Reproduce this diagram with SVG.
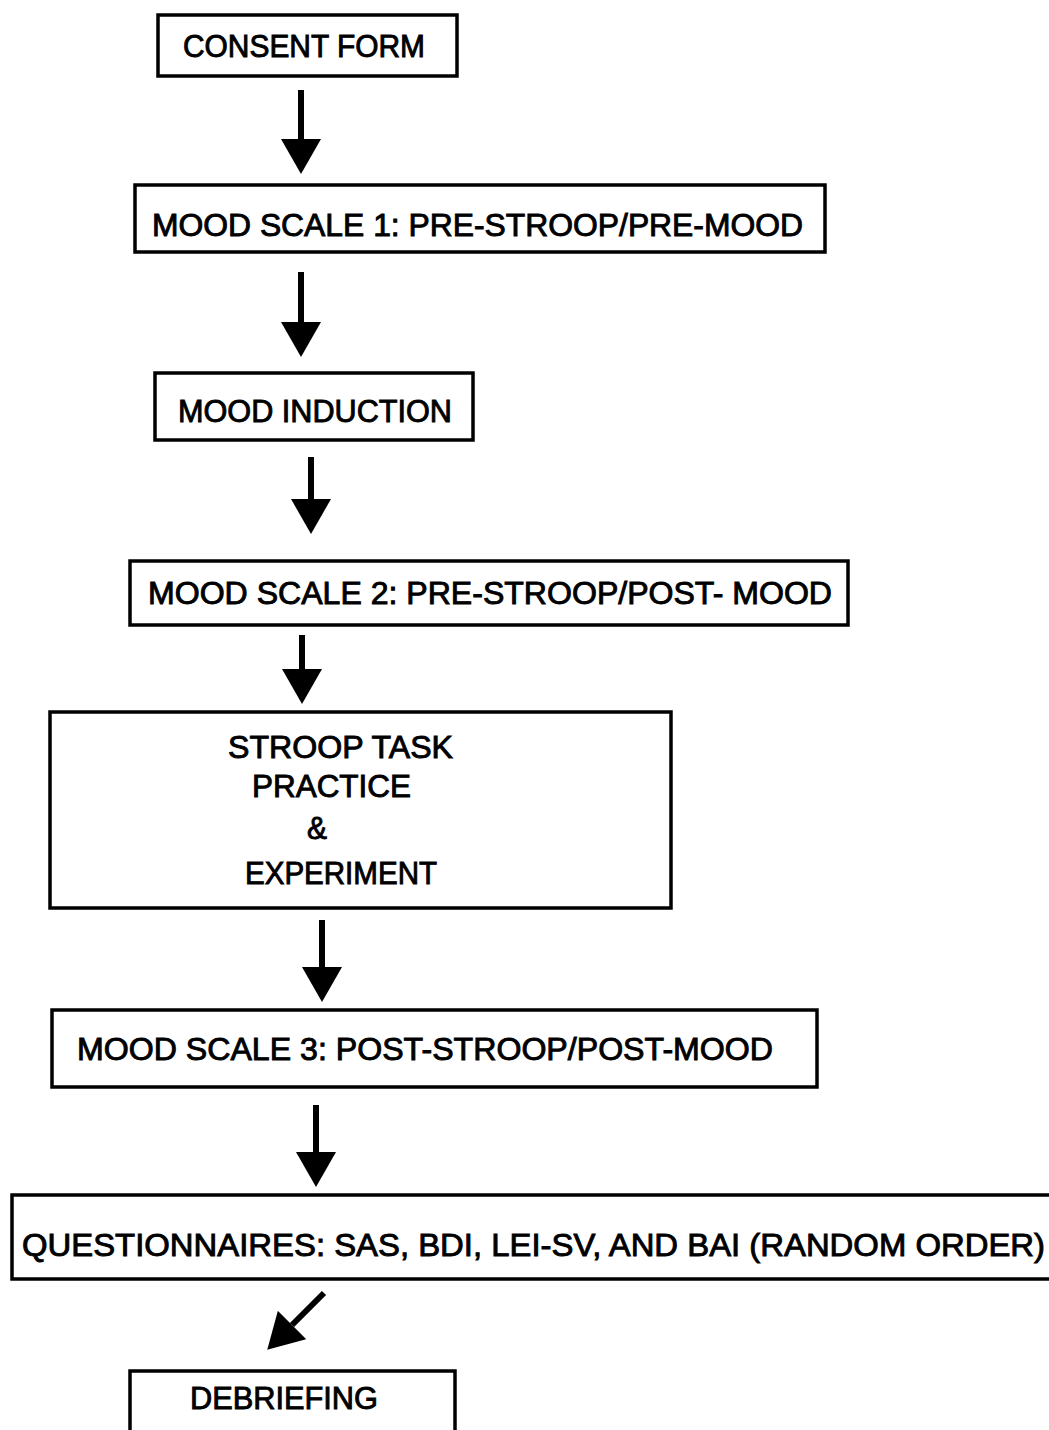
<svg xmlns="http://www.w3.org/2000/svg" width="1049" height="1430" viewBox="0 0 1049 1430">
<defs>
<marker id="ah" markerUnits="userSpaceOnUse" markerWidth="36" markerHeight="40" viewBox="0 0 36 40" refX="0" refY="20" orient="auto">
<path d="M0,0 L35,20 L0,40 Z" fill="#000"/>
</marker>
<style>
.box{fill:#fff;stroke:#000;stroke-width:3.5}
.t{font-family:"Liberation Sans",Arial,sans-serif;font-size:31px;fill:#000;stroke:#000;stroke-width:0.9;dominant-baseline:central}
.c{stroke:#000;stroke-width:6;fill:none}
</style>
</defs>
<rect width="1049" height="1430" fill="#fff"/>
<g id="connectors">
<line class="c" x1="301" y1="90" x2="301" y2="139" marker-end="url(#ah)"/>
<line class="c" x1="301" y1="272" x2="301" y2="322" marker-end="url(#ah)"/>
<line class="c" x1="311" y1="457" x2="311" y2="499" marker-end="url(#ah)"/>
<line class="c" x1="302" y1="635" x2="302" y2="669" marker-end="url(#ah)"/>
<line class="c" x1="322" y1="920" x2="322" y2="967" marker-end="url(#ah)"/>
<line class="c" x1="316" y1="1105" x2="316" y2="1152" marker-end="url(#ah)"/>
<line class="c" x1="324" y1="1293" x2="292" y2="1325" marker-end="url(#ah)"/>
</g>
<g id="n1"><rect class="box" x="158" y="15" width="299" height="61"/><text class="t" x="183" y="46" textLength="242" lengthAdjust="spacingAndGlyphs">CONSENT FORM</text></g>
<g id="n2"><rect class="box" x="135" y="185" width="690" height="67"/><text class="t" x="152" y="225" textLength="651" lengthAdjust="spacingAndGlyphs">MOOD SCALE 1: PRE-STROOP/PRE-MOOD</text></g>
<g id="n3"><rect class="box" x="155" y="373" width="318" height="67"/><text class="t" x="178" y="411" textLength="274" lengthAdjust="spacingAndGlyphs">MOOD INDUCTION</text></g>
<g id="n4"><rect class="box" x="130" y="561" width="718" height="64"/><text class="t" x="148" y="593" textLength="684" lengthAdjust="spacingAndGlyphs">MOOD SCALE 2: PRE-STROOP/POST- MOOD</text></g>
<g id="n5"><rect class="box" x="50" y="712" width="621" height="196"/>
<text class="t" x="228" y="747" textLength="225" lengthAdjust="spacingAndGlyphs">STROOP TASK</text>
<text class="t" x="252" y="786" textLength="159" lengthAdjust="spacingAndGlyphs">PRACTICE</text>
<text class="t" x="307" y="828" textLength="20" lengthAdjust="spacingAndGlyphs">&amp;</text>
<text class="t" x="245" y="873" textLength="192" lengthAdjust="spacingAndGlyphs">EXPERIMENT</text></g>
<g id="n6"><rect class="box" x="52" y="1010" width="765" height="77"/><text class="t" x="77" y="1049" textLength="696" lengthAdjust="spacingAndGlyphs">MOOD SCALE 3: POST-STROOP/POST-MOOD</text></g>
<g id="n7"><rect class="box" x="12" y="1195" width="1050" height="84"/><text class="t" x="22" y="1245" textLength="1023" lengthAdjust="spacingAndGlyphs">QUESTIONNAIRES: SAS, BDI, LEI-SV, AND BAI (RANDOM ORDER)</text></g>
<g id="n8"><rect class="box" x="130" y="1371" width="325" height="80"/><text class="t" x="190" y="1398" textLength="188" lengthAdjust="spacingAndGlyphs">DEBRIEFING</text></g>
</svg>
